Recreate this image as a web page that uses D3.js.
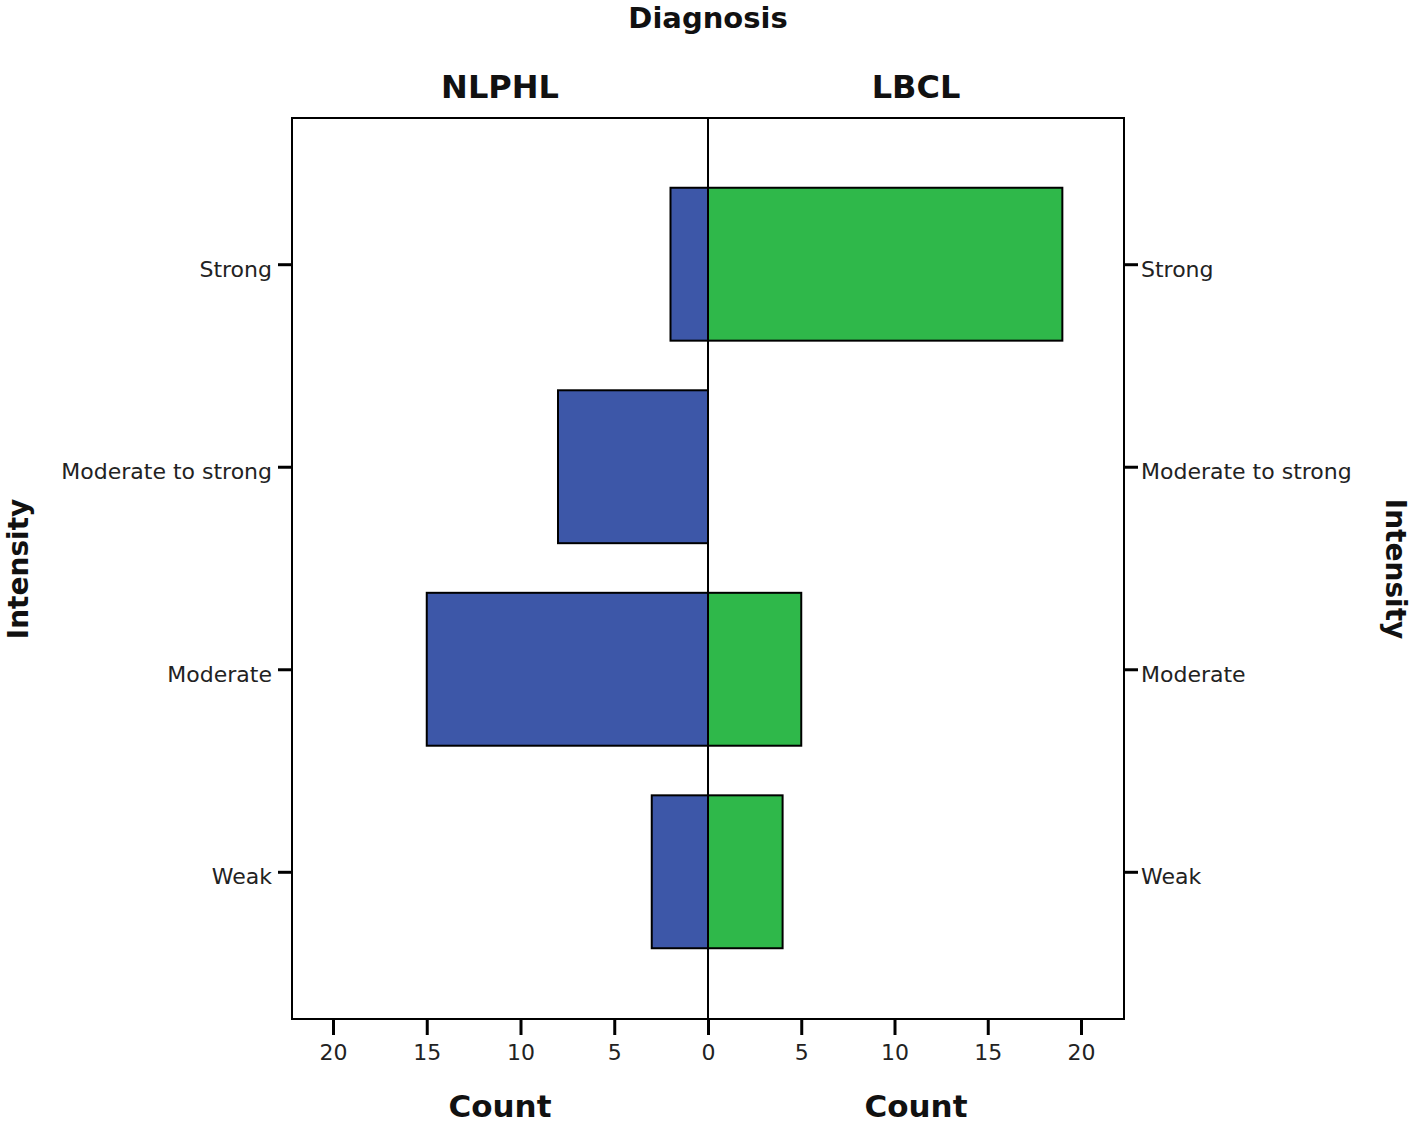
<!DOCTYPE html>
<html><head><meta charset="utf-8">
<script src="https://cdn.jsdelivr.net/npm/d3@7"></script>
<style>body{margin:0;background:#fff}</style>
</head><body>
<script>
const categories = ["Strong", "Moderate to strong", "Moderate", "Weak"];
const nlphl = [2, 8, 15, 3];
const lbcl = [19, 0, 5, 4];
const ticks = [0, 5, 10, 15, 20];
const panels = ["NLPHL", "LBCL"];

const W = 1416, H = 1124;
const svg = d3.select("body").append("svg").attr("width", W).attr("height", H);
const L = 292, R = 1124, T = 118, B = 1019, C = 708;

const xLeft = d3.scaleLinear().domain([0, 20]).range([C, 333]);
const xRight = d3.scaleLinear().domain([0, 20]).range([C, 1081]);
const y = d3.scaleBand().domain(categories).range([T + 9, B - 10]).paddingInner(0.245).paddingOuter(0.3);

const blue = "#3d57a8", green = "#2fb84a";
const font = "'DejaVu Sans', Verdana, sans-serif";
const bold = "'DejaVu Sans', Verdana, sans-serif";

// bars
svg.append("g").selectAll("rect").data(categories).join("rect")
  .attr("x", (d, i) => xLeft(nlphl[i])).attr("width", (d, i) => xLeft(0) - xLeft(nlphl[i]))
  .attr("y", d => y(d)).attr("height", y.bandwidth())
  .attr("fill", blue).attr("stroke", "#000").attr("stroke-width", 2)
  .attr("display", (d, i) => nlphl[i] > 0 ? null : "none");
svg.append("g").selectAll("rect").data(categories).join("rect")
  .attr("x", xRight(0)).attr("width", (d, i) => xRight(lbcl[i]) - xRight(0))
  .attr("y", d => y(d)).attr("height", y.bandwidth())
  .attr("fill", green).attr("stroke", "#000").attr("stroke-width", 2)
  .attr("display", (d, i) => lbcl[i] > 0 ? null : "none");

// frame
svg.append("rect").attr("x", L).attr("y", T).attr("width", R - L).attr("height", B - T)
  .attr("fill", "none").attr("stroke", "#000").attr("stroke-width", 2);
svg.append("line").attr("x1", C).attr("x2", C).attr("y1", T).attr("y2", B)
  .attr("stroke", "#000").attr("stroke-width", 2);

function styleAxis(g) {
  g.select(".domain").remove();
  g.selectAll(".tick line").attr("stroke", "#000").attr("stroke-width", 3);
  g.selectAll(".tick text").attr("fill", "#222").style("font-family", font).style("font-size", "22px");
}

const yPoint = d3.scalePoint().domain(categories)
  .range([y(categories[0]) + y.bandwidth() / 2, y(categories[3]) + y.bandwidth() / 2]);

svg.append("g").attr("transform", `translate(${L},0)`)
  .call(d3.axisLeft(yPoint).tickSize(14).tickPadding(6)).call(styleAxis)
  .selectAll(".tick text").attr("dy", "0.55em");
svg.append("g").attr("transform", `translate(${R},0)`)
  .call(d3.axisRight(yPoint).tickSize(14).tickPadding(3)).call(styleAxis)
  .selectAll(".tick text").attr("dy", "0.55em");

svg.append("g").attr("transform", `translate(0,${B})`)
  .call(d3.axisBottom(xLeft).tickValues(ticks).tickSize(16).tickPadding(9).tickFormat(d3.format("d"))).call(styleAxis);
svg.append("g").attr("transform", `translate(0,${B})`)
  .call(d3.axisBottom(xRight).tickValues(ticks.slice(1)).tickSize(16).tickPadding(9).tickFormat(d3.format("d"))).call(styleAxis);

function title(text, x, yy, size, rot) {
  svg.append("text").attr("transform", `translate(${x},${yy}) rotate(${rot || 0})`)
    .attr("text-anchor", "middle").attr("dominant-baseline", "middle")
    .style("font-family", bold).style("font-weight", "bold").style("font-size", size + "px")
    .attr("fill", "#111").text(text);
}
title("Diagnosis", 708, 20, 29);
title(panels[0], (L + C) / 2, 89, 32);
title(panels[1], (C + R) / 2, 89, 32);
title("Count", (L + C) / 2, 1108, 31);
title("Count", (C + R) / 2, 1108, 31);
title("Intensity", 20, 569, 28, -90);
title("Intensity", 1394, 569, 28, 90);
</script>
</body></html>
